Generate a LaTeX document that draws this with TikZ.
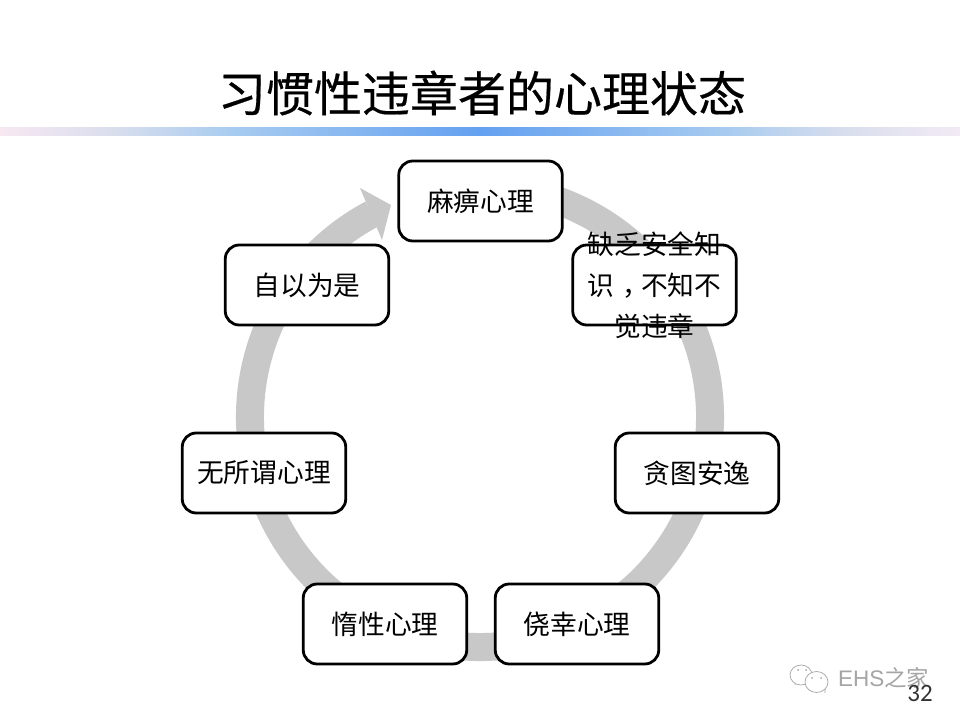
\documentclass[tikz,border=0pt]{standalone}
\usepackage{fontspec}
\setmainfont{Noto Sans CJK SC}
\newfontfamily\titlefont[FakeBold=0.4]{Noto Sans CJK SC}
\newfontfamily\latinfont{Liberation Sans}
\newfontfamily\pagefont{Carlito}
\definecolor{ringgray}{RGB}{200,200,200}
\definecolor{markgray}{RGB}{165,165,165}
\pgfdeclarehorizontalshading{barshade}{100bp}{
  rgb(0bp)=(0.97,0.91,0.95);
  rgb(25bp)=(0.97,0.91,0.95);
  rgb(31bp)=(0.85,0.87,0.93);
  rgb(37bp)=(0.66,0.80,0.94);
  rgb(50bp)=(0.39,0.63,0.94);
  rgb(63bp)=(0.66,0.80,0.94);
  rgb(69bp)=(0.85,0.87,0.93);
  rgb(75bp)=(0.95,0.92,0.96);
  rgb(100bp)=(0.95,0.92,0.96)
}
\begin{document}
\begin{tikzpicture}
  [ x=1pt, y=1pt,
    box/.style={rectangle, rounded corners=14pt, draw=black, line width=2.8pt, fill=white,
      minimum width=163.5pt, minimum height=80pt, inner sep=0pt, align=center,
      font=\fontsize{26.7}{41}\selectfont},
    overtext/.style={inner sep=0pt, align=center, font=\fontsize{26.7}{41}\selectfont},
    ringline/.style={draw=ringgray, line width=28pt},
    markline/.style={draw=markgray, line width=0.7pt, fill=white}
  ]
  \useasboundingbox (0,0) rectangle (960,720);
  \fill[white] (0,0) rectangle (960,720);

  \node[font=\titlefont\fontsize{48}{48}\selectfont, inner sep=0pt] (title) at (482,627) {习惯性违章者的心理状态};
  \shade[shading=barshade] (0,584) rectangle (960,592);

  \coordinate (ringcenter) at (480,303);
  \coordinate (ringend) at ([shift={(118:230)}]ringcenter);
  \coordinate (headtop) at (360,532);
  \coordinate (headtip) at (391,515);
  \coordinate (headbot) at (382,480);
  \draw[ringline] (ringend) arc[start angle=118, end angle=450, radius=230];
  \fill[ringgray] (headtop) -- (headtip) -- (headbot) -- cycle;

  \node[box] (mabi) at (480.5,519) {麻痹心理};
  \node[box] (quefa) at (654.5,435) {};
  \node[overtext] (quefatext) at (quefa.center) {缺乏安全知\\识\hspace{0.3em}，\hspace{-0.3em}不知不\\觉违章};
  \node[box] (tantu) at (697,247) {贪图安逸};
  \node[box] (jiaoxing) at (577,96) {侥幸心理};
  \node[box] (duoxing) at (385,96) {惰性心理};
  \node[box] (wusuowei) at (264,247) {无所谓心理};
  \node[box] (ziyi) at (307,435) {自以为是};

  \draw[markline] (795,35) -- (796,43) -- (803,40);
  \draw[markline] (801,45) ellipse [x radius=11, y radius=10];
  \draw[markline] (825,27) -- (825,34) -- (819,31);
  \draw[markline] (816.5,38) ellipse [x radius=11.5, y radius=10.5];
  \fill[markgray] (798,50) circle (1) (806,50) circle (1) (812,42) circle (1) (821,42) circle (1);
  \node[text=markgray, font=\fontsize{22.5}{22.5}\selectfont, inner sep=0pt, anchor=west] (mark) at (838,42)
    {{\latinfont EHS}之家};
  \node[font=\pagefont\fontsize{25}{25}\selectfont, text=black!80, inner sep=0pt] (pagenum) at (920,27) {32};
\end{tikzpicture}
\end{document}
